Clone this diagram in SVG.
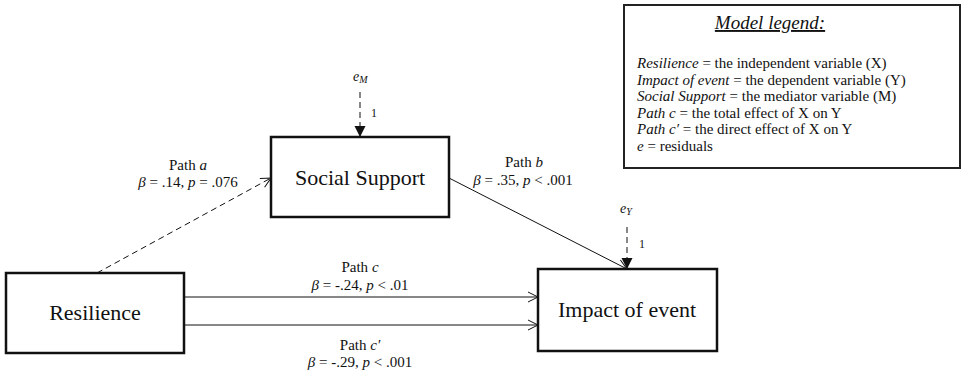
<svg xmlns="http://www.w3.org/2000/svg" width="963" height="374" viewBox="0 0 963 374">
<defs>
<style>
.box{fill:#fff;stroke:#111;stroke-width:2.5}
.node{font-family:"Liberation Serif","Times New Roman",serif;font-size:22px;fill:#111;text-anchor:middle}
.lbl{font-family:"Liberation Serif","Times New Roman",serif;font-size:15px;fill:#111;text-anchor:middle}
.res{font-family:"Liberation Serif","Times New Roman",serif;font-size:14px;fill:#111;font-style:italic}
.one{font-family:"Liberation Serif","Times New Roman",serif;font-size:12px;fill:#111}
.leg{font-family:"Liberation Serif","Times New Roman",serif;font-size:15px;fill:#111}
.conn{stroke:#111;stroke-width:1;fill:none}
.dash{stroke-dasharray:6,4}
.rdash{stroke-dasharray:6,4}
</style>
<marker id="open" markerUnits="userSpaceOnUse" markerWidth="12" markerHeight="12" refX="11" refY="6" orient="auto">
<path d="M1,1 L11,6 L1,11" fill="none" stroke="#111" stroke-width="1"/>
</marker>
<marker id="solid" markerUnits="userSpaceOnUse" markerWidth="12" markerHeight="12" refX="11" refY="5.5" orient="auto">
<path d="M0,0 L11,5.5 L0,11 Z" fill="#111"/>
</marker>
</defs>

<g id="connectors">
<line class="conn dash" x1="97" y1="273" x2="271" y2="178" marker-end="url(#open)"/>
<line class="conn" x1="449" y1="178" x2="627" y2="269" marker-end="url(#open)"/>
<line class="conn" x1="184" y1="297" x2="538" y2="297" marker-end="url(#open)"/>
<line class="conn" x1="184" y1="325" x2="538" y2="325" marker-end="url(#open)"/>
<line class="conn rdash" x1="360" y1="92" x2="360" y2="137" marker-end="url(#solid)"/>
<line class="conn rdash" x1="627" y1="227" x2="627" y2="269" marker-end="url(#solid)"/>
</g>

<g id="node-social-support">
<rect class="box" x="271" y="137" width="178" height="80"/>
<text class="node" x="360" y="185">Social Support</text>
</g>

<g id="node-resilience">
<rect class="box" x="6" y="273" width="178" height="80"/>
<text class="node" x="95" y="320">Resilience</text>
</g>

<g id="node-impact">
<rect class="box" x="538" y="269" width="179" height="82"/>
<text class="node" x="627" y="317">Impact of event</text>
</g>

<g id="residual-m">
<text class="res" x="353" y="81">e<tspan font-size="10" dy="2">M</tspan></text>
<text class="one" x="371" y="117">1</text>
</g>

<g id="residual-y">
<text class="res" x="620" y="213">e<tspan font-size="10" dy="2">Y</tspan></text>
<text class="one" x="639" y="248">1</text>
</g>

<g id="labels">
<text class="lbl" x="188" y="170">Path <tspan font-style="italic">a</tspan></text>
<text class="lbl" x="188" y="187"><tspan font-style="italic">β</tspan> = .14, <tspan font-style="italic">p</tspan> = .076</text>
<text class="lbl" x="524" y="167">Path <tspan font-style="italic">b</tspan></text>
<text class="lbl" x="523" y="185"><tspan font-style="italic">β</tspan> = .35, <tspan font-style="italic">p</tspan> &lt; .001</text>
<text class="lbl" x="360" y="272">Path <tspan font-style="italic">c</tspan></text>
<text class="lbl" x="360" y="290"><tspan font-style="italic">β</tspan> = -.24, <tspan font-style="italic">p</tspan> &lt; .01</text>
<text class="lbl" x="360" y="350">Path <tspan font-style="italic">c′</tspan></text>
<text class="lbl" x="360" y="367"><tspan font-style="italic">β</tspan> = -.29, <tspan font-style="italic">p</tspan> &lt; .001</text>
</g>

<g id="legend">
<rect x="624" y="5" width="336" height="163" fill="#fff" stroke="#222" stroke-width="2"/>
<text x="770" y="29" font-family="Liberation Serif, Times New Roman, serif" font-size="19" font-style="italic" fill="#111" text-anchor="middle" text-decoration="underline">Model legend:</text>
<text class="leg" x="637" y="68"><tspan font-style="italic">Resilience</tspan> = the independent variable (X)</text>
<text class="leg" x="637" y="84.6"><tspan font-style="italic">Impact of event</tspan> = the dependent variable (Y)</text>
<text class="leg" x="637" y="101.2"><tspan font-style="italic">Social Support</tspan> = the mediator variable (M)</text>
<text class="leg" x="637" y="117.8"><tspan font-style="italic">Path c</tspan> = the total effect of X on Y</text>
<text class="leg" x="637" y="134.4"><tspan font-style="italic">Path c′</tspan> = the direct effect of X on Y</text>
<text class="leg" x="637" y="151"><tspan font-style="italic">e</tspan> = residuals</text>
</g>
</svg>
